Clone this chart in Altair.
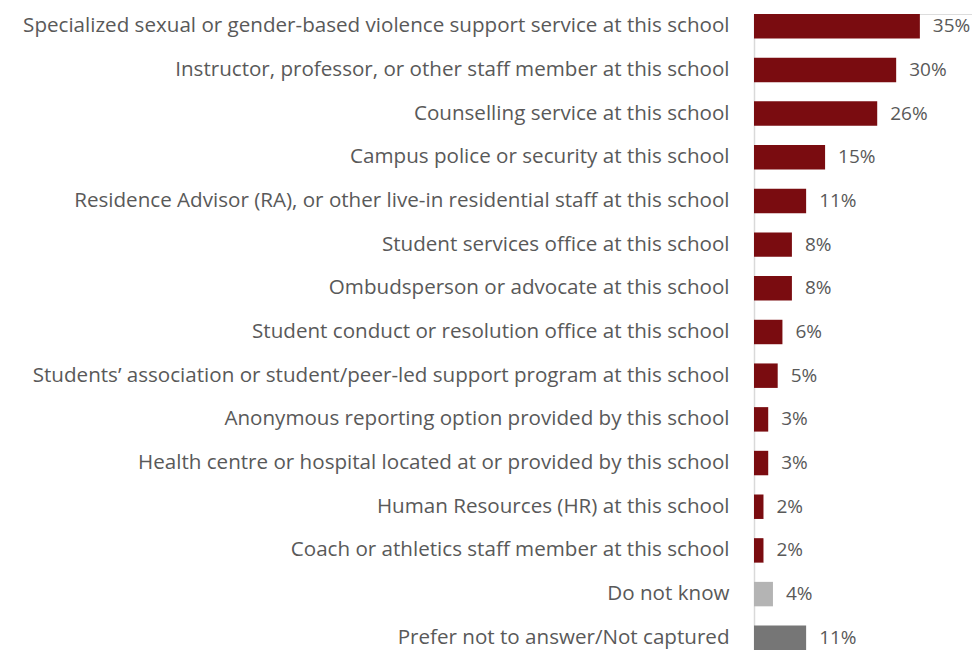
import altair as alt
import pandas as pd

categories = [
    "Specialized sexual or gender-based violence support service at this school",
    "Instructor, professor, or other staff member at this school",
    "Counselling service at this school",
    "Campus police or security at this school",
    "Residence Advisor (RA), or other live-in residential staff at this school",
    "Student services office at this school",
    "Ombudsperson or advocate at this school",
    "Student conduct or resolution office at this school",
    "Students\u2019 association or student/peer-led support program at this school",
    "Anonymous reporting option provided by this school",
    "Health centre or hospital located at or provided by this school",
    "Human Resources (HR) at this school",
    "Coach or athletics staff member at this school",
    "Do not know",
    "Prefer not to answer/Not captured",
]
values = [35, 30, 26, 15, 11, 8, 8, 6, 5, 3, 3, 2, 2, 4, 11]
groups = ["main"] * 13 + ["dk", "pna"]
group_names = ["main", "dk", "pna"]
group_colors = ["#7A0C10", "#B4B4B4", "#767676"]

df = pd.DataFrame({
    "category": categories,
    "value": values,
    "group": groups,
    "label": [f"{v}%" for v in values],
})

FONT = "Open Sans"
TEXT_COLOR = "#595959"
FSIZE = 20.6

y_enc = alt.Y(
    "category:N",
    sort=categories,
    scale=alt.Scale(paddingInner=0.44, paddingOuter=0),
    axis=alt.Axis(
        title=None,
        ticks=False,
        labelLimit=900,
        labelPadding=25,
        labelFont=FONT,
        labelFontSize=FSIZE,
        labelColor=TEXT_COLOR,
        domainColor="#D9D9D9",
        domainWidth=1.5,
        grid=False,
    ),
)

x_enc = alt.X(
    "value:Q",
    scale=alt.Scale(domain=[0, 46], nice=False),
    axis=None,
)

bars = alt.Chart(df).mark_bar().encode(
    x=x_enc,
    y=y_enc,
    color=alt.Color(
        "group:N",
        scale=alt.Scale(domain=group_names, range=group_colors),
        legend=None,
    ),
)

texts = alt.Chart(df).mark_text(
    align="left", baseline="middle", dx=13, font=FONT, fontSize=19, color=TEXT_COLOR
).encode(
    x=x_enc,
    y=alt.Y("category:N", sort=categories),
    text="label:N",
)

chart = (
    alt.layer(bars, texts)
    .properties(
        width=218,
        height=636,
        autosize=alt.AutoSizeParams(type="none"),
        padding={"left": 746, "top": 6, "right": 0, "bottom": 0},
    )
    .configure_view(stroke=None)
    .configure(background="white")
)

chart.save("out.html", embed_options={"renderer": "svg", "actions": False})
